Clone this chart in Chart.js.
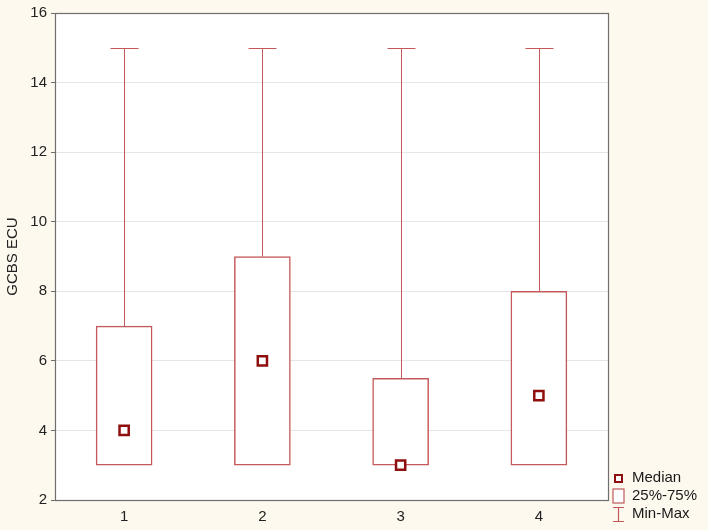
<!DOCTYPE html>
<html>
<head>
<meta charset="utf-8">
<script src="https://cdn.jsdelivr.net/npm/chart.js@4/dist/chart.umd.min.js"></script>
<style>
  html, body { margin: 0; padding: 0; background: #fdf9ee; }
  #wrap { position: relative; width: 708px; height: 530px; }
</style>
</head>
<body>
<div id="wrap"><canvas id="chart" width="708" height="530"></canvas></div>
<script>
'use strict';

/* ---- Data ---- */
const categories = ['1', '2', '3', '4'];
const mins    = [3, 3, 3, 3];
const q1s     = [3, 3, 3, 3];
const medians = [4, 6, 3, 5];
const q3s     = [7, 9, 5.5, 8];
const maxs    = [15, 15, 15, 15];
const yTicks  = [2, 4, 6, 8, 10, 12, 14, 16];

const BOX_COLOR = '#c4585a';
const MED_COLOR = '#8f0f0f';
const BOX_W = 56;
const CAP_W = 28;
const FONT = '"Liberation Sans", Arial, sans-serif';

/* ---- Plot background, whiskers, frame, legend ---- */
const boxExtras = {
  id: 'boxExtras',
  beforeDraw(chart) {
    const { ctx, chartArea: a } = chart;
    ctx.save();
    ctx.fillStyle = '#ffffff';
    ctx.fillRect(a.left, a.top, a.right - a.left, a.bottom - a.top);
    ctx.restore();
  },
  beforeDatasetsDraw(chart) {
    const { ctx, scales: { x, y } } = chart;
    ctx.save();
    ctx.strokeStyle = BOX_COLOR;
    ctx.lineWidth = 1;
    categories.forEach((c, i) => {
      const cx = Math.round(x.getPixelForValue(i)) + 0.5;
      const half = CAP_W / 2;
      const yMax = Math.round(y.getPixelForValue(maxs[i])) + 0.5;
      const yQ3 = y.getPixelForValue(q3s[i]);
      const yMin = Math.round(y.getPixelForValue(mins[i])) + 0.5;
      const yQ1 = y.getPixelForValue(q1s[i]);
      ctx.beginPath();
      ctx.moveTo(cx, yMax); ctx.lineTo(cx, yQ3);
      ctx.moveTo(cx - half, yMax); ctx.lineTo(cx + half, yMax);
      if (mins[i] < q1s[i]) {
        ctx.moveTo(cx, yMin); ctx.lineTo(cx, yQ1);
        ctx.moveTo(cx - half, yMin); ctx.lineTo(cx + half, yMin);
      }
      ctx.stroke();
    });
    ctx.restore();
  },
  afterDraw(chart) {
    const { ctx, chartArea: a } = chart;
    ctx.save();
    ctx.strokeStyle = '#6e6e6e';
    ctx.lineWidth = 1.2;
    ctx.strokeRect(a.left + 0.5, a.top + 0.5, a.right - a.left, a.bottom - a.top);

    // legend
    const lx = 618, tx = 632;
    ctx.font = '15px ' + FONT;
    ctx.fillStyle = '#1a1a1a';
    ctx.textBaseline = 'middle';
    ctx.fillText('Median', tx, 478);
    ctx.fillText('25%-75%', tx, 496);
    ctx.fillText('Min-Max', tx, 514);

    ctx.fillStyle = '#ffffff';
    ctx.strokeStyle = MED_COLOR;
    ctx.lineWidth = 2;
    ctx.fillRect(lx - 3, 475, 7, 7);
    ctx.strokeRect(lx - 3, 475, 7, 7);

    ctx.strokeStyle = BOX_COLOR;
    ctx.lineWidth = 1.2;
    ctx.fillRect(lx - 5, 489, 11, 14);
    ctx.strokeRect(lx - 5, 489, 11, 14);

    ctx.beginPath();
    ctx.moveTo(lx - 5, 507.5); ctx.lineTo(lx + 6, 507.5);
    ctx.moveTo(lx + 0.5, 507.5); ctx.lineTo(lx + 0.5, 521.5);
    ctx.moveTo(lx - 5, 521.5); ctx.lineTo(lx + 6, 521.5);
    ctx.stroke();
    ctx.restore();
  }
};

/* ---- Chart ---- */
new Chart(document.getElementById('chart'), {
  type: 'bar',
  data: {
    labels: categories,
    datasets: [
      {
        type: 'bar',
        label: '25%-75%',
        data: q1s.map((v, i) => [v, q3s[i]]),
        backgroundColor: '#ffffff',
        borderColor: BOX_COLOR,
        borderWidth: 1.5,
        borderSkipped: false,
        barThickness: BOX_W,
        order: 2
      },
      {
        type: 'line',
        label: 'Median',
        data: medians,
        showLine: false,
        pointStyle: 'rect',
        pointRadius: 6.5,
        pointBackgroundColor: '#ffffff',
        pointBorderColor: MED_COLOR,
        pointBorderWidth: 2.5,
        order: 1
      }
    ]
  },
  options: {
    responsive: false,
    animation: false,
    layout: { padding: { top: 10, right: 100, left: 0, bottom: 0 } },
    plugins: { legend: { display: false }, tooltip: { enabled: false } },
    scales: {
      x: {
        offset: true,
        grid: { display: false, tickLength: 4, color: '#6e6e6e' },
        border: { display: false },
        ticks: { color: '#222', font: { size: 15, family: FONT }, padding: 4 },
        afterFit(scale) { scale.height = 30; }
      },
      y: {
        min: 2,
        max: 16,
        afterBuildTicks(scale) { scale.ticks = yTicks.map(v => ({ value: v })); },
        grid: { color: '#e6e6e6', tickLength: 4, tickColor: '#6e6e6e' },
        border: { display: false },
        ticks: { color: '#222', font: { size: 15, family: FONT }, padding: 4 },
        title: {
          display: true,
          text: 'GCBS ECU',
          color: '#222',
          font: { size: 15, family: FONT },
          padding: { top: 4, bottom: 2 }
        },
        afterFit(scale) { scale.width = 55; }
      }
    }
  },
  plugins: [boxExtras]
});
</script>
</body>
</html>
